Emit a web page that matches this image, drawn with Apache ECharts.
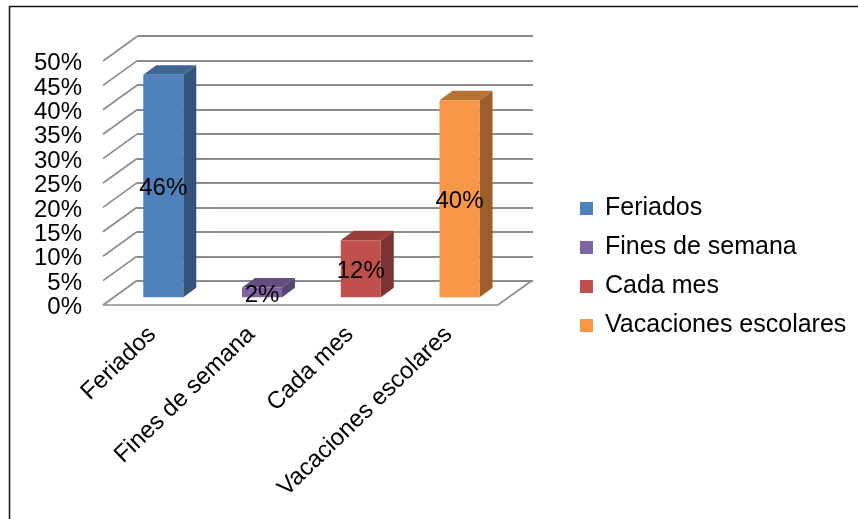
<!DOCTYPE html>
<html><head><meta charset="utf-8">
<style>html,body{margin:0;padding:0;background:#fff}#c{width:858px;height:519px}</style>
<script src="https://cdn.jsdelivr.net/npm/echarts@6/dist/echarts.min.js"></script>
</head><body><div id="c"></div>
<script>
const categories = ['Feriados', 'Fines de semana', 'Cada mes', 'Vacaciones escolares'];
const values = [45.6, 2.0, 11.7, 40.4];
const yTicks = [0, 5, 10, 15, 20, 25, 30, 35, 40, 45, 50];
const frontColors = ['#4F81BD', '#8064A2', '#C0504D', '#F79646'];
const topColors = ['#3E6695', '#644E80', '#973E3B', '#B87333'];
const sideColors = ['#335378', '#5A4672', '#7C3331', '#9C5F2B'];

const FONT = '"Liberation Sans", Arial, sans-serif';
const GRID_COLOR = '#8C8C8C';
const GRID_W = 2;
const WALL = [34, -24.5];   // depth of the floor, front to back wall
const BAR_SHIFT = [10.9, -7.7]; // bar front face within the floor depth
const BAR_DEPTH = [13, -9.5];
const BAR_W = 40;

function barItem(i) {
  return function (params, api) {
    const p0 = api.coord([i, 0]), p1 = api.coord([i, api.value(1)]);
    const cx = p0[0] + BAR_SHIFT[0];
    const yb = p0[1] + BAR_SHIFT[1], yt = p1[1] + BAR_SHIFT[1];
    const l = cx - BAR_W / 2, r = cx + BAR_W / 2;
    const dx = BAR_DEPTH[0], dy = BAR_DEPTH[1];
    return { type: 'group', children: [
      { type: 'polygon', shape: { points: [[r, yb], [r + dx, yb + dy], [r + dx, yt + dy], [r, yt]] }, style: { fill: sideColors[i] } },
      { type: 'polygon', shape: { points: [[l, yt], [r, yt], [r + dx, yt + dy], [l + dx, yt + dy]] }, style: { fill: topColors[i] } },
      { type: 'rect', shape: { x: l, y: yt, width: BAR_W, height: yb - yt }, style: { fill: frontColors[i] } },
      { type: 'text', z2: 10, style: { text: Math.round(api.value(1)) + '%', x: cx, y: (yb + yt) / 2 + 2.5, align: 'center', verticalAlign: 'middle', fill: '#000', font: '24px ' + FONT } }
    ]};
  };
}

const barSeries = categories.map((name, i) => ({
  name, type: 'custom', xAxisIndex: 0, yAxisIndex: 0, z: 5,
  itemStyle: { color: frontColors[i] },
  encode: { x: 0, y: 1 },
  data: [[i, values[i]]],
  renderItem: barItem(i)
}));

const wallSeries = {
  name: 'walls', type: 'custom', xAxisIndex: 0, yAxisIndex: 0, z: 2, silent: true,
  encode: { x: 0, y: 1 },
  data: yTicks.map(v => [0, v]),
  renderItem(params, api) {
    const p = api.coord([0, api.value(1)]);
    const x = p[0] - api.size([1, 0])[0] / 2;
    return { type: 'line', shape: { x1: x, y1: p[1], x2: x + WALL[0], y2: p[1] + WALL[1] }, style: { stroke: GRID_COLOR, lineWidth: GRID_W * 0.85 } };
  }
};

const floorSeries = {
  name: 'floor', type: 'custom', xAxisIndex: 0, yAxisIndex: 0, z: 2, silent: true,
  encode: { x: 0, y: 1 },
  data: [[0, 0]],
  renderItem(params, api) {
    const band = api.size([1, 0])[0];
    const a = api.coord([0, 0]), b = api.coord([categories.length - 1, 0]);
    const l = a[0] - band / 2, r = b[0] + band / 2;
    return { type: 'polyline', shape: { points: [[l, a[1]], [r, a[1]], [r + WALL[0], a[1] + WALL[1]]] }, style: { fill: 'none', stroke: GRID_COLOR, lineWidth: GRID_W * 0.85 } };
  }
};

const chart = echarts.init(document.getElementById('c'), null, { renderer: 'canvas' });
chart.setOption({
  animation: false,
  backgroundColor: '#fff',
  textStyle: { fontFamily: FONT },
  graphic: [{ type: 'polyline', silent: true, z: 0, shape: { points: [[9.5, 519], [9.5, 6.5], [858, 6.5]] }, style: { fill: 'none', stroke: '#111', lineWidth: 1.5 } }],
  legend: {
    data: categories, orient: 'vertical', left: 575, top: 191, icon: 'rect',
    itemWidth: 13, itemHeight: 13, itemGap: 14, selectedMode: false,
    textStyle: { fontSize: 25, color: '#000', fontFamily: FONT, padding: [0, 0, 0, 7] }
  },
  grid: [
    { left: 103, width: 395, top: 61, height: 244 },
    { left: 137, width: 396, top: 36, height: 245 }
  ],
  xAxis: [
    { type: 'category', gridIndex: 0, data: categories, axisLine: { show: false }, axisTick: { show: false },
      axisLabel: { rotate: 44, interval: 0, margin: 26, fontSize: 24, color: '#000', fontFamily: FONT } },
    { type: 'category', gridIndex: 1, data: categories, axisLine: { show: false }, axisTick: { show: false }, axisLabel: { show: false } }
  ],
  yAxis: [
    { type: 'value', gridIndex: 0, min: 0, max: 50, interval: 5, axisLine: { show: false }, axisTick: { show: false }, splitLine: { show: false },
      axisLabel: { margin: 21, color: '#000', formatter: '{t|{value}%}',
        rich: { t: { fontSize: 24, color: '#000', fontFamily: FONT, padding: [5, 0, 0, 0] } } } },
    { type: 'value', gridIndex: 1, min: 0, max: 50, interval: 5, axisLine: { show: false }, axisTick: { show: false }, axisLabel: { show: false },
      splitLine: { show: true, lineStyle: { color: GRID_COLOR, width: GRID_W } } }
  ],
  series: [wallSeries, floorSeries].concat(barSeries)
});
</script></body></html>
